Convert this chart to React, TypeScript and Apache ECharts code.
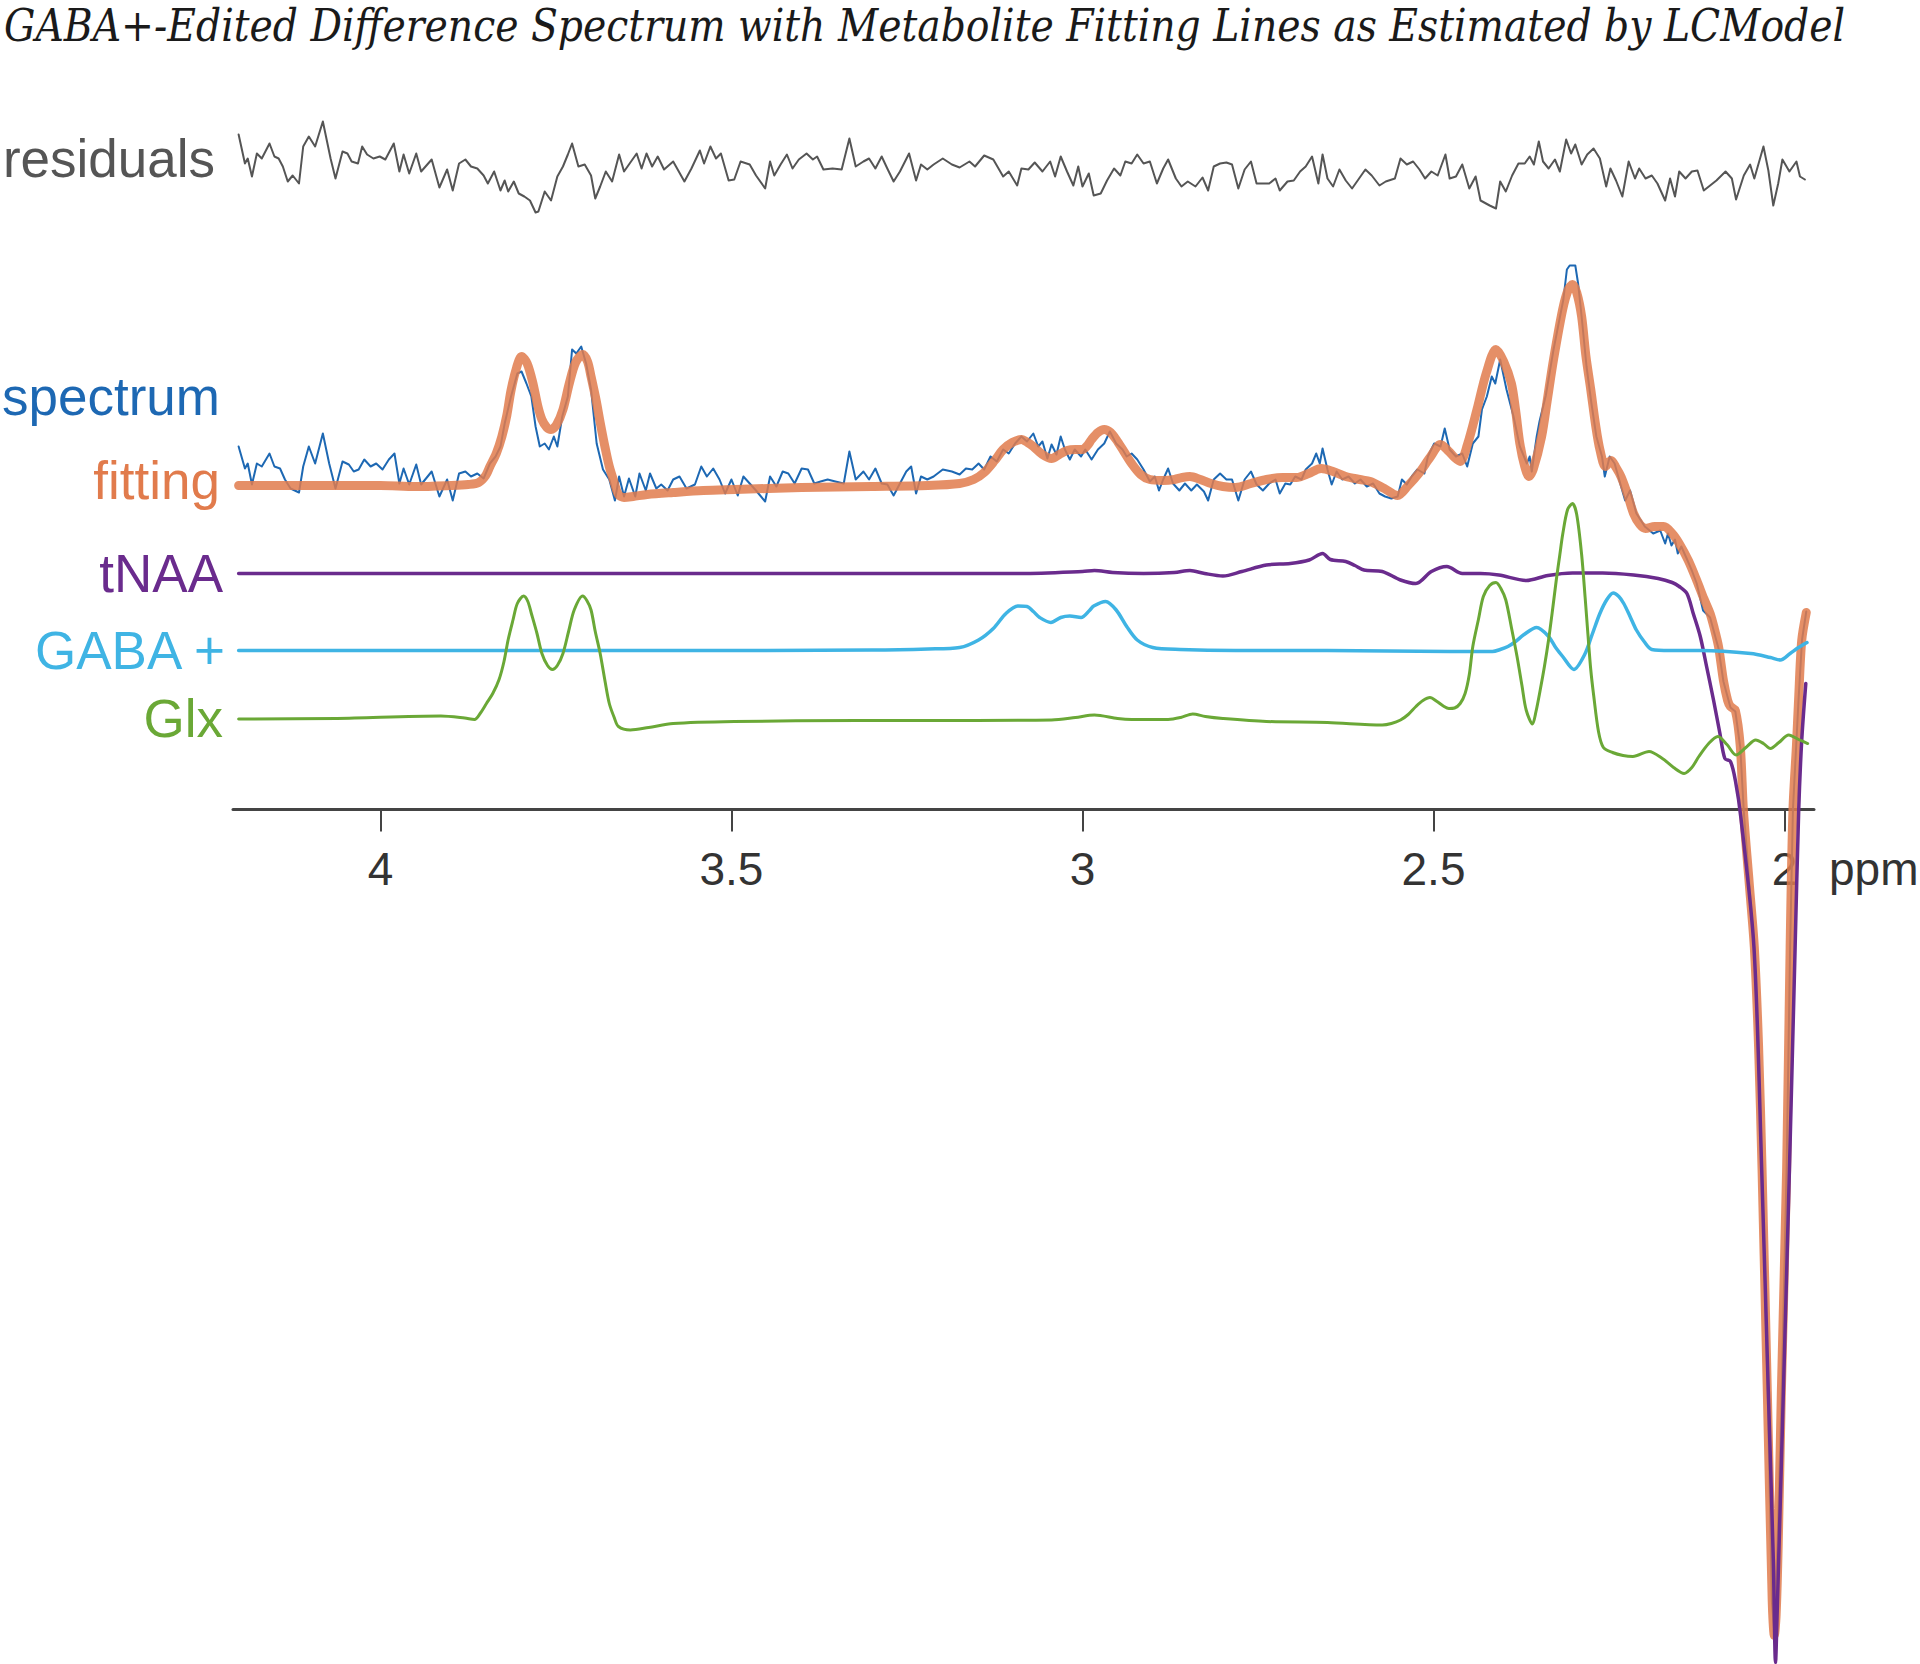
import React, { useEffect, useRef } from "react";
import * as echarts from "echarts";

const TITLE = "GABA+-Edited Difference Spectrum with Metabolite Fitting Lines as Estimated by LCModel";
const TICKS = [4, 3.5, 3, 2.5, 2];
const AXIS_NAME = "ppm";

// [ppm, intensity (a.u.)], each relative to its own trace baseline
const residuals: [number, number][] = [
  [4.202, 3.5], [4.193, 0.6], [4.189, 1.1], [4.183, -0.7], [4.176, 1.6], [4.169, 1.1], [4.158, 2.6], [4.151, 1.3], [4.145, 1.1], [4.139, 0.3],
  [4.132, -1.2], [4.125, -0.6], [4.116, -1.4], [4.11, 2.3], [4.102, 3.3], [4.093, 2.3], [4.082, 4.8], [4.071, 1.1], [4.064, -0.9], [4.054, 1.8],
  [4.047, 1.6], [4.041, 0.8], [4.032, 0.6], [4.026, 2.3], [4.019, 1.5], [4.01, 1.1], [4.001, 1.3], [3.993, 1.0], [3.981, 2.6], [3.973, -0.2],
  [3.967, 1.5], [3.959, -0.4], [3.949, 1.6], [3.942, -0.2], [3.927, 1.0], [3.916, -1.8], [3.905, 0.0], [3.897, -2.1], [3.888, 0.6], [3.879, 1.0],
  [3.871, 0.3], [3.862, 0.1], [3.853, -0.6], [3.847, -1.4], [3.838, -0.2], [3.829, -2.1], [3.823, -1.1], [3.818, -2.2], [3.81, -1.2], [3.803, -2.4],
  [3.795, -2.7], [3.787, -3.1], [3.779, -4.3], [3.775, -4.2], [3.766, -2.2], [3.757, -3.1], [3.748, -0.7], [3.74, 0.3], [3.733, 1.5], [3.727, 2.6],
  [3.718, 0.3], [3.709, 0.5], [3.7, -0.6], [3.694, -2.9], [3.687, -1.7], [3.679, -0.2], [3.67, -1.2], [3.66, 1.5], [3.653, -0.2], [3.645, 0.6],
  [3.635, 1.6], [3.628, 0.1], [3.621, 1.6], [3.613, 0.3], [3.605, 1.3], [3.596, 0.0], [3.583, 0.8], [3.567, -1.2], [3.557, 0.1], [3.545, 1.9],
  [3.539, 0.6], [3.53, 2.3], [3.522, 1.1], [3.515, 1.6], [3.504, -1.1], [3.496, -1.0], [3.487, 0.8], [3.474, 0.5], [3.465, -0.6], [3.452, -1.9],
  [3.445, 0.8], [3.439, -0.6], [3.43, 0.5], [3.421, 1.5], [3.413, 0.1], [3.404, 1.0], [3.393, 1.6], [3.384, 1.0], [3.378, 1.3], [3.369, 0.0],
  [3.356, 0.1], [3.343, 0.0], [3.332, 3.1], [3.323, 0.3], [3.312, 0.8], [3.304, 1.1], [3.295, 0.1], [3.286, 1.3], [3.278, 0.1], [3.269, -1.2],
  [3.26, -0.2], [3.247, 1.6], [3.237, -1.1], [3.23, 0.5], [3.221, 0.0], [3.212, 0.5], [3.199, 1.1], [3.186, 0.5], [3.175, 0.2], [3.161, 0.8],
  [3.153, 0.3], [3.14, 1.4], [3.127, 1.0], [3.113, -0.7], [3.105, -0.2], [3.093, -1.6], [3.087, 0.1], [3.077, 0.0], [3.068, 0.7], [3.057, -0.2],
  [3.046, 0.8], [3.039, -0.7], [3.031, 1.3], [3.022, -0.2], [3.013, -1.6], [3.006, 0.3], [3.0, -1.7], [2.991, -0.4], [2.984, -2.6], [2.974, -2.4],
  [2.965, -1.1], [2.955, 0.1], [2.946, -0.6], [2.939, 0.8], [2.93, 0.6], [2.922, 1.5], [2.913, 0.6], [2.904, 0.8], [2.894, -1.4], [2.885, 0.1],
  [2.878, 1.0], [2.867, -0.9], [2.859, -1.7], [2.85, -1.2], [2.839, -1.7], [2.829, -0.8], [2.821, -2.1], [2.813, 0.3], [2.804, 0.6], [2.795, 0.7],
  [2.787, 0.5], [2.778, -1.9], [2.769, 0.0], [2.76, 0.8], [2.752, -1.4], [2.743, -1.4], [2.734, -1.4], [2.725, -0.9], [2.719, -2.1], [2.708, -1.2],
  [2.699, -1.1], [2.69, -0.2], [2.682, 0.3], [2.673, 1.3], [2.664, -1.4], [2.658, 1.5], [2.651, -0.9], [2.643, -1.7], [2.634, 0.0], [2.625, -1.1],
  [2.616, -1.9], [2.606, -0.9], [2.597, 0.0], [2.588, -0.6], [2.577, -1.6], [2.568, -1.2], [2.555, -0.9], [2.547, 1.1], [2.538, 0.5], [2.529, 0.8],
  [2.52, 0.0], [2.512, -0.9], [2.503, -0.2], [2.494, -0.6], [2.483, 1.5], [2.477, -0.9], [2.468, -0.7], [2.459, 0.5], [2.449, -1.9], [2.44, -0.7],
  [2.433, -3.1], [2.42, -3.6], [2.411, -3.9], [2.405, -1.2], [2.397, -2.2], [2.388, -0.6], [2.379, 0.6], [2.37, 0.6], [2.363, 1.3], [2.357, 0.5],
  [2.35, 2.8], [2.344, 0.8], [2.336, 0.1], [2.327, 1.0], [2.32, -0.2], [2.311, 3.0], [2.304, 1.6], [2.298, 2.5], [2.289, 0.5], [2.281, 1.5],
  [2.272, 2.1], [2.263, 1.1], [2.254, -1.7], [2.248, 0.1], [2.24, -1.1], [2.231, -2.7], [2.222, 0.8], [2.213, -0.9], [2.207, 0.1], [2.198, -0.9],
  [2.189, -0.6], [2.181, -1.4], [2.17, -3.1], [2.163, -0.9], [2.156, -2.7], [2.15, -0.2], [2.141, -0.9], [2.132, -0.2], [2.124, -0.1], [2.115, -2.1],
  [2.106, -1.6], [2.097, -1.1], [2.084, -0.2], [2.075, -0.9], [2.069, -3.0], [2.058, -0.6], [2.049, 0.5], [2.043, -0.9], [2.03, 2.3], [2.023, -0.1],
  [2.016, -3.6], [2.009, -1.4], [2.003, 1.0], [1.993, -0.2], [1.983, 0.8], [1.978, -0.7], [1.971, -1.0],
];

const spectrum: [number, number][] = [
  [4.202, 3.9], [4.193, 1.7], [4.189, 2.2], [4.183, 0.1], [4.176, 2.2], [4.169, 1.9], [4.158, 3.2], [4.151, 1.9], [4.143, 1.7], [4.136, 0.6],
  [4.128, -0.3], [4.116, -0.7], [4.11, 1.9], [4.102, 3.9], [4.093, 2.2], [4.082, 5.2], [4.073, 2.2], [4.064, -0.3], [4.054, 2.4], [4.045, 2.1],
  [4.038, 1.4], [4.031, 1.6], [4.023, 2.6], [4.014, 1.9], [4.006, 2.2], [3.997, 1.6], [3.988, 2.6], [3.98, 3.2], [3.973, 0.2], [3.967, 1.7],
  [3.959, 0.1], [3.949, 2.1], [3.942, 0.1], [3.927, 1.4], [3.916, -1.1], [3.905, 0.6], [3.897, -1.5], [3.888, 1.2], [3.879, 1.4], [3.871, 0.9],
  [3.862, 1.2], [3.853, 0.7], [3.844, 2.2], [3.836, 2.9], [3.829, 3.9], [3.823, 6.2], [3.814, 8.9], [3.805, 11.2], [3.799, 11.4], [3.792, 10.2],
  [3.785, 8.9], [3.779, 5.9], [3.773, 3.9], [3.766, 4.2], [3.76, 3.6], [3.753, 4.9], [3.748, 3.9], [3.741, 6.9], [3.733, 8.9], [3.727, 13.6],
  [3.721, 13.2], [3.714, 13.9], [3.707, 12.2], [3.7, 9.6], [3.692, 4.2], [3.683, 1.6], [3.674, 0.6], [3.666, -1.5], [3.66, 0.9], [3.653, -1.1],
  [3.646, 0.7], [3.637, -1.1], [3.631, 1.2], [3.622, -0.5], [3.616, 1.2], [3.607, -0.3], [3.6, 0.1], [3.591, -0.5], [3.583, 0.6], [3.574, 0.9],
  [3.564, -0.3], [3.552, 0.1], [3.543, 1.9], [3.535, 0.9], [3.526, 1.7], [3.517, 0.6], [3.509, -0.8], [3.5, 0.6], [3.491, -1.0], [3.483, 0.9],
  [3.474, 0.2], [3.465, -0.5], [3.452, -1.6], [3.445, 0.9], [3.436, -0.1], [3.427, 1.4], [3.419, 1.2], [3.41, 0.2], [3.4, 1.7], [3.391, 1.6],
  [3.382, 0.2], [3.373, 0.4], [3.363, 0.6], [3.352, 0.4], [3.34, 0.2], [3.332, 3.4], [3.323, 0.6], [3.312, 1.4], [3.304, 0.6], [3.295, 1.7],
  [3.286, 0.2], [3.278, 0.1], [3.269, -1.0], [3.26, 0.2], [3.251, 1.4], [3.244, 1.9], [3.237, -0.8], [3.23, 0.9], [3.221, 0.6], [3.212, 0.9],
  [3.199, 1.6], [3.186, 1.4], [3.175, 1.1], [3.166, 1.7], [3.157, 1.6], [3.148, 2.2], [3.14, 1.6], [3.131, 2.9], [3.122, 2.4], [3.113, 3.6],
  [3.105, 3.2], [3.096, 4.2], [3.087, 4.9], [3.079, 4.4], [3.07, 5.2], [3.063, 3.9], [3.057, 4.4], [3.05, 2.7], [3.044, 4.1], [3.037, 3.1],
  [3.031, 4.9], [3.025, 3.6], [3.018, 2.6], [3.011, 3.6], [3.002, 2.9], [2.996, 3.6], [2.987, 2.6], [2.978, 3.6], [2.969, 4.2], [2.961, 5.4],
  [2.952, 4.2], [2.943, 3.6], [2.937, 2.9], [2.93, 3.2], [2.922, 2.6], [2.913, 1.6], [2.904, 0.4], [2.897, 0.9], [2.891, -0.5], [2.885, 0.6],
  [2.878, 1.7], [2.871, 0.2], [2.862, -0.5], [2.854, 0.2], [2.845, -0.5], [2.837, 0.1], [2.827, -0.6], [2.821, -1.5], [2.813, 0.6], [2.804, 1.2],
  [2.795, 0.6], [2.787, 0.6], [2.778, -1.5], [2.769, 0.6], [2.76, 1.4], [2.752, 0.1], [2.743, -0.5], [2.734, 0.2], [2.725, 0.6], [2.719, -0.8],
  [2.711, 0.2], [2.704, 0.1], [2.697, 0.9], [2.688, 0.6], [2.682, 1.6], [2.673, 2.2], [2.667, 3.2], [2.662, 2.2], [2.658, 3.7], [2.651, 1.6],
  [2.645, 0.1], [2.638, 1.4], [2.63, 0.6], [2.621, 0.9], [2.612, 0.2], [2.604, 0.6], [2.595, -0.1], [2.586, 0.2], [2.577, -0.8], [2.569, -1.1],
  [2.56, -1.3], [2.551, -1.1], [2.545, 0.6], [2.538, 0.1], [2.531, 0.9], [2.523, 1.6], [2.513, 1.2], [2.508, 2.9], [2.499, 4.2], [2.49, 3.9],
  [2.484, 5.7], [2.477, 3.6], [2.468, 2.9], [2.459, 3.2], [2.452, 1.9], [2.444, 4.2], [2.436, 4.9], [2.431, 7.6], [2.424, 8.9], [2.417, 10.9],
  [2.412, 10.2], [2.405, 12.6], [2.396, 9.6], [2.386, 6.9], [2.377, 3.9], [2.367, 2.2], [2.363, 2.9], [2.36, 1.4], [2.353, 4.9], [2.349, 6.4],
  [2.34, 9.0], [2.329, 13.6], [2.315, 18.6], [2.31, 21.6], [2.306, 22.0], [2.298, 22.0], [2.294, 20.2], [2.289, 16.9], [2.282, 11.9], [2.275, 8.2],
  [2.268, 4.9], [2.26, 2.9], [2.256, 0.9], [2.249, 2.9], [2.242, 2.2], [2.234, 0.2], [2.227, -1.5], [2.22, -0.5], [2.211, -2.8], [2.199, -4.1],
  [2.187, -4.8], [2.177, -4.5], [2.17, -5.8], [2.166, -4.8], [2.161, -6.0], [2.156, -5.4], [2.152, -6.8], [2.147, -6.1], [2.14, -7.2], [2.132, -8.5],
  [2.125, -9.8], [2.116, -12.5], [2.106, -13.2], [2.094, -16.3], [2.087, -19.6], [2.077, -22.2], [2.07, -22.6], [2.063, -26.2], [2.058, -32.6], [2.043, -46.3],
  [2.032, -68.5], [2.024, -90.7], [2.018, -111.6], [2.015, -114.3], [2.01, -105.9], [2.004, -90.5], [1.997, -68.3], [1.992, -46.1], [1.988, -32.4], [1.98, -21.4],
  [1.975, -15.4], [1.969, -12.6],
];

const fitting: [number, number][] = [
  [4.202, 0.0], [4.1, 0.0], [4.0, 0.0], [3.95, -0.1], [3.9, 0.0], [3.875, 0.1], [3.86, 0.3], [3.85, 1.0], [3.844, 1.9], [3.835, 3.2],
  [3.827, 4.9], [3.82, 7.0], [3.814, 9.5], [3.806, 11.8], [3.799, 12.9], [3.791, 12.2], [3.783, 10.3], [3.776, 8.0], [3.77, 6.6], [3.763, 5.8],
  [3.757, 5.6], [3.749, 6.1], [3.74, 7.6], [3.731, 10.2], [3.722, 12.3], [3.712, 13.1], [3.705, 12.4], [3.7, 10.9], [3.693, 8.6], [3.687, 6.3],
  [3.68, 3.8], [3.674, 1.9], [3.667, 0.3], [3.661, -0.9], [3.653, -1.2], [3.64, -1.1], [3.62, -0.9], [3.583, -0.7], [3.54, -0.5], [3.495, -0.4],
  [3.4, -0.2], [3.3, -0.1], [3.22, 0.0], [3.175, 0.2], [3.155, 0.6], [3.14, 1.3], [3.125, 2.5], [3.113, 3.6], [3.1, 4.3], [3.087, 4.6],
  [3.078, 4.3], [3.07, 3.9], [3.057, 3.1], [3.044, 2.7], [3.033, 3.1], [3.022, 3.5], [3.01, 3.6], [3.0, 3.6], [2.993, 4.0], [2.987, 4.6],
  [2.978, 5.3], [2.969, 5.6], [2.96, 5.3], [2.952, 4.6], [2.941, 3.4], [2.93, 2.2], [2.917, 1.1], [2.904, 0.6], [2.885, 0.5], [2.869, 0.6],
  [2.858, 0.8], [2.847, 0.9], [2.832, 0.6], [2.817, 0.2], [2.8, -0.1], [2.782, -0.2], [2.76, 0.2], [2.738, 0.6], [2.715, 0.8], [2.695, 0.8],
  [2.678, 1.2], [2.66, 1.7], [2.643, 1.4], [2.625, 0.9], [2.605, 0.6], [2.59, 0.4], [2.57, -0.3], [2.551, -1.0], [2.536, 0.0], [2.521, 1.2],
  [2.505, 2.8], [2.49, 4.1], [2.478, 3.4], [2.47, 2.8], [2.462, 2.4], [2.452, 4.0], [2.438, 7.6], [2.425, 11.2], [2.411, 13.6], [2.4, 12.4],
  [2.389, 10.2], [2.383, 7.5], [2.377, 4.2], [2.37, 1.9], [2.364, 0.9], [2.358, 1.6], [2.346, 4.9], [2.338, 8.5], [2.329, 12.6], [2.316, 17.6],
  [2.308, 19.6], [2.302, 20.1], [2.296, 19.3], [2.289, 16.9], [2.283, 13.0], [2.276, 9.6], [2.269, 6.0], [2.263, 3.6], [2.255, 1.9], [2.247, 2.5],
  [2.24, 1.8], [2.233, 0.9], [2.224, -0.8], [2.215, -2.8], [2.206, -3.9], [2.198, -4.3], [2.185, -4.1], [2.172, -4.1], [2.16, -4.8], [2.15, -5.8],
  [2.137, -7.5], [2.125, -9.5], [2.115, -11.3], [2.106, -12.8], [2.1, -14.3], [2.094, -16.1], [2.087, -19.5], [2.081, -21.5], [2.077, -22.1], [2.07, -22.5],
  [2.063, -26.1], [2.0585, -32.5], [2.05, -40.0], [2.043, -46.2], [2.037, -56.0], [2.032, -68.4], [2.0245, -90.6], [2.0175, -111.6], [2.0145, -115.0], [2.012, -113.0],
  [2.009, -106.0], [2.0045, -90.6], [1.997, -68.4], [1.992, -46.2], [1.988, -32.5], [1.983, -26.0], [1.98, -21.5], [1.9755, -15.5], [1.969, -12.7],
];

const tNAA: [number, number][] = [
  [4.202, 0.0], [3.9, 0.0], [3.6, 0.0], [3.3, 0.0], [3.175, 0.0], [3.087, 0.0], [3.0, 0.2], [2.983, 0.3], [2.957, 0.1], [2.913, 0.0],
  [2.869, 0.1], [2.847, 0.3], [2.826, 0.0], [2.8, -0.25], [2.773, 0.2], [2.738, 0.85], [2.704, 1.0], [2.677, 1.35], [2.658, 2.0], [2.647, 1.4],
  [2.625, 1.2], [2.612, 0.8], [2.599, 0.35], [2.573, 0.2], [2.547, -0.65], [2.525, -1.0], [2.503, 0.2], [2.481, 0.7], [2.459, 0.0], [2.433, 0.0],
  [2.407, -0.15], [2.368, -0.7], [2.337, -0.2], [2.302, 0.05], [2.259, 0.05], [2.215, -0.15], [2.18, -0.5], [2.16, -0.9], [2.15, -1.3], [2.139, -2.0],
  [2.13, -4.0], [2.12, -6.3], [2.111, -9.3], [2.101, -12.7], [2.092, -16.0], [2.085, -18.5], [2.077, -18.8], [2.07, -20.7], [2.062, -24.5], [2.0435, -37.4],
  [2.0325, -59.6], [2.0231, -81.8], [2.016, -98.5], [2.0128, -108.9], [2.0105, -104.0], [2.0075, -96.6], [2.0016, -81.8], [1.993, -59.6], [1.9849, -37.4], [1.9798, -23.7],
  [1.9755, -16.7], [1.9697, -11.0],
];

const gaba: [number, number][] = [
  [4.202, 0.0], [3.6, 0.0], [3.3, 0.05], [3.22, 0.15], [3.175, 0.3], [3.148, 1.05], [3.127, 2.2], [3.109, 3.7], [3.092, 4.45], [3.079, 4.4],
  [3.07, 3.9], [3.061, 3.3], [3.045, 2.8], [3.031, 3.3], [3.018, 3.45], [3.002, 3.3], [2.99, 4.0], [2.984, 4.45], [2.967, 4.9], [2.952, 4.05],
  [2.937, 2.4], [2.922, 1.05], [2.9, 0.3], [2.861, 0.1], [2.782, 0.0], [2.651, 0.0], [2.477, -0.1], [2.416, -0.1], [2.405, 0.1], [2.394, 0.4],
  [2.383, 0.9], [2.372, 1.55], [2.353, 2.3], [2.336, 1.4], [2.326, 0.3], [2.316, -0.6], [2.3, -1.9], [2.285, -0.45], [2.274, 1.6], [2.263, 3.7],
  [2.253, 5.1], [2.244, 5.75], [2.236, 5.4], [2.229, 4.7], [2.22, 3.4], [2.211, 2.05], [2.2, 0.9], [2.189, 0.1], [2.163, 0.0], [2.119, 0.0],
  [2.048, -0.3], [2.02, -0.7], [2.006, -0.95], [1.992, -0.3], [1.98, 0.3], [1.968, 0.8],
];

const glx: [number, number][] = [
  [4.202, 0.05], [4.062, 0.1], [3.914, 0.35], [3.88, 0.15], [3.866, 0.0], [3.858, 0.6], [3.849, 1.6], [3.84, 2.6], [3.831, 4.0], [3.824, 5.8],
  [3.818, 8.0], [3.811, 10.0], [3.805, 11.6], [3.796, 12.35], [3.79, 11.8], [3.785, 10.6], [3.777, 8.6], [3.77, 6.6], [3.762, 5.4], [3.755, 5.0],
  [3.748, 5.4], [3.74, 6.6], [3.732, 8.8], [3.724, 10.95], [3.712, 12.35], [3.706, 11.9], [3.7, 10.95], [3.694, 8.8], [3.687, 6.6], [3.68, 3.8],
  [3.674, 1.6], [3.667, 0.2], [3.661, -0.7], [3.644, -1.05], [3.618, -0.8], [3.583, -0.4], [3.496, -0.2], [3.321, -0.1], [3.175, -0.1], [3.044, -0.05],
  [3.01, 0.2], [2.983, 0.45], [2.95, 0.1], [2.93, 0.0], [2.878, 0.0], [2.86, 0.2], [2.843, 0.55], [2.825, 0.3], [2.8, 0.1], [2.738, -0.2],
  [2.651, -0.3], [2.573, -0.55], [2.56, -0.4], [2.547, -0.05], [2.536, 0.5], [2.525, 1.3], [2.515, 1.9], [2.505, 2.2], [2.495, 1.8], [2.486, 1.35],
  [2.478, 1.1], [2.47, 1.15], [2.462, 1.6], [2.455, 2.6], [2.449, 4.5], [2.444, 7.3], [2.436, 10.0], [2.429, 12.3], [2.42, 13.4], [2.411, 13.7],
  [2.404, 13.1], [2.397, 11.95], [2.389, 9.2], [2.381, 6.3], [2.374, 3.4], [2.368, 0.95], [2.359, -0.45], [2.354, 0.8], [2.348, 2.95], [2.342, 5.3],
  [2.336, 8.0], [2.33, 11.2], [2.325, 14.0], [2.32, 16.5], [2.316, 18.5], [2.309, 21.0], [2.302, 21.6], [2.296, 20.5], [2.289, 16.5], [2.284, 12.2],
  [2.28, 8.5], [2.276, 5.0], [2.272, 2.5], [2.265, -1.2], [2.258, -2.8], [2.245, -3.3], [2.23, -3.6], [2.216, -3.7], [2.193, -3.2], [2.174, -3.9],
  [2.158, -4.8], [2.143, -5.4], [2.132, -4.8], [2.122, -3.7], [2.108, -2.4], [2.095, -1.7], [2.082, -2.5], [2.069, -3.55], [2.055, -2.8], [2.041, -2.05],
  [2.03, -2.4], [2.02, -2.9], [2.008, -2.3], [1.994, -1.55], [1.98, -2.0], [1.967, -2.4],
];

// vertical stacking offset of each trace (a.u.)
const OFFSET_RESID = 64.0;
const OFFSET_SPEC = 32.4;
const OFFSET_TNAA = 23.6;
const OFFSET_GABA = 15.9;
const OFFSET_GLX = 9.0;

const COLORS = {
  resid: "#555555",
  spec: "#1d68b3",
  fit: "#e17b4c",
  tnaa: "#6a2b8d",
  gaba: "#3fb4e4",
  glx: "#6aa836",
};

const shift = (d: [number, number][], off: number) => d.map(([x, y]) => [x, y + off]);

export default function App() {
  const ref = useRef<HTMLDivElement>(null);
  useEffect(() => {
    if (!ref.current) return;
    const chart = echarts.init(ref.current, undefined, { renderer: "svg" });

    const titleFont = 'italic 45px "DejaVu Serif"';
    let titleScale = 1;
    try {
      const c = document.createElement("canvas").getContext("2d");
      if (c) {
        c.font = titleFont;
        const w = c.measureText(TITLE).width;
        if (w > 0) titleScale = 1842 / w;
      }
    } catch (e) {}

    const label = (text: string, x: number, y: number, color: string) => ({
      type: "text",
      x,
      y,
      style: { text, fill: color, align: "right", verticalAlign: "middle", fontFamily: "Liberation Sans", fontSize: 53 },
    });

    const line = (name: string, data: any[], color: string, width: number, smooth: number | boolean, z: number, opacity = 1) => ({
      name,
      type: "line",
      data,
      showSymbol: false,
      smooth,
      z,
      clip: false,
      lineStyle: { color, width, opacity, cap: "round", join: "round" },
      emphasis: { disabled: true },
    });

    chart.setOption({
      animation: false,
      backgroundColor: "#ffffff",
      grid: { left: 233, right: 106, top: 0, bottom: 854.5, containLabel: false, outerBoundsMode: "none" },
      xAxis: {
        type: "value",
        inverse: true,
        min: 1.958,
        max: 4.21,
        position: "bottom",
        axisLine: { onZero: false, lineStyle: { color: "#444444", width: 3 } },
        axisTick: { customValues: TICKS, length: 22, lineStyle: { color: "#444444", width: 2 } },
        axisLabel: {
          customValues: TICKS,
          formatter: (v: number) => String(v),
          fontFamily: "Liberation Sans",
          fontSize: 46,
          color: "#333333",
          margin: 59,
          verticalAlign: "middle",
        },
        splitLine: { show: false },
      },
      yAxis: { type: "value", min: 0, max: 80.95, show: false, splitLine: { show: false } },
      series: [
        line("residuals", shift(residuals, OFFSET_RESID), COLORS.resid, 2, false, 2),
        line("spectrum", shift(spectrum, OFFSET_SPEC), COLORS.spec, 2, false, 3),
        line("fitting", shift(fitting, OFFSET_SPEC), COLORS.fit, 9, 0.3, 4, 0.85),
        line("tNAA", shift(tNAA, OFFSET_TNAA), COLORS.tnaa, 3.5, 0.3, 5),
        line("GABA +", shift(gaba, OFFSET_GABA), COLORS.gaba, 3.5, 0.3, 6),
        line("Glx", shift(glx, OFFSET_GLX), COLORS.glx, 3, 0.3, 7),
      ],
      graphic: [
        {
          type: "text",
          x: 4,
          y: 26,
          scaleX: titleScale,
          style: { text: TITLE, fill: "#1a1a1a", font: titleFont, lineHeight: 46, align: "left", verticalAlign: "middle" },
        },
        label("residuals", 215, 158, COLORS.resid),
        label("spectrum", 220, 396, COLORS.spec),
        label("fitting", 220, 480, COLORS.fit),
        label("tNAA", 223, 573, COLORS.tnaa),
        label("GABA +", 225, 650, COLORS.gaba),
        label("Glx", 223, 718, COLORS.glx),
        {
          type: "text",
          x: 1829,
          y: 869,
          style: { text: AXIS_NAME, fill: "#333333", fontFamily: "Liberation Sans", fontSize: 46, align: "left", verticalAlign: "middle" },
        },
      ],
    });
    return () => chart.dispose();
  }, []);
  return <div ref={ref} style={{ position: "absolute", left: 0, top: 0, width: 1920, height: 1664 }} />;
}
